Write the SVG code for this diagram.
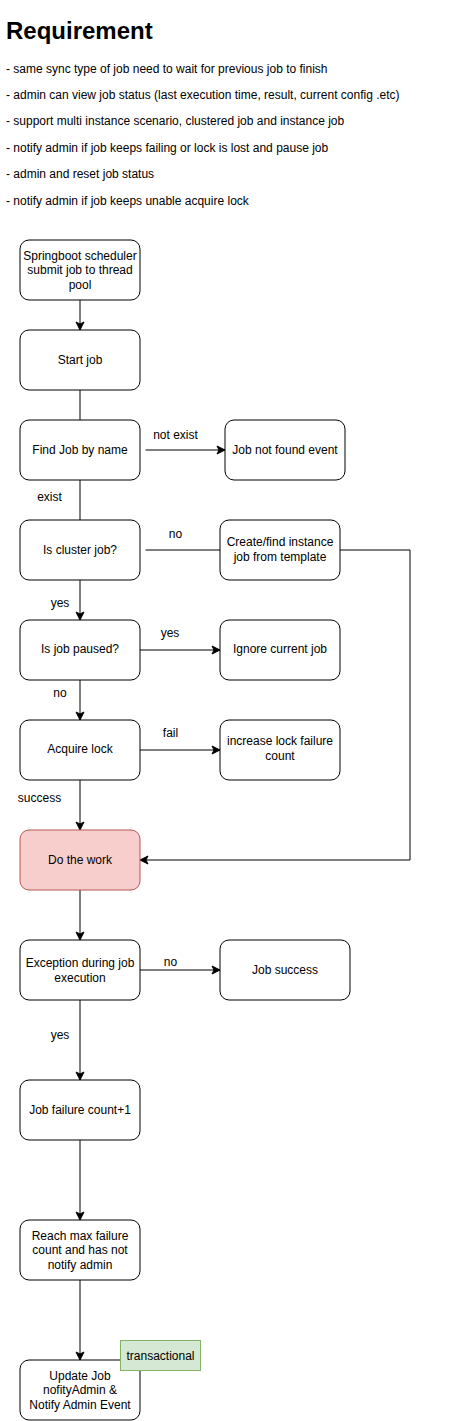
<svg xmlns="http://www.w3.org/2000/svg" width="462" height="1421" viewBox="0 0 462 1421">
<style>
text{font-family:"Liberation Sans",Arial,Helvetica,sans-serif;font-size:12px;fill:#000}
.t{font-size:24px;font-weight:bold}
.c{text-anchor:middle}
.n{fill:#fff;stroke:#000;stroke-width:1}
.w{fill:#f8cecc;stroke:#b85450;stroke-width:1}
.g{fill:#d5e8d4;stroke:#82b366;stroke-width:1}
.e{fill:none;stroke:#000;stroke-width:1}
.a{marker-end:url(#arr)}
</style>
<defs>
<marker id="arr" markerUnits="userSpaceOnUse" markerWidth="10" markerHeight="10" refX="8" refY="4" orient="auto" overflow="visible">
<path d="M0,0 L8,4 L0,8 L2,4 Z" fill="#000" stroke="#000" stroke-width="1"/>
</marker>
</defs>
<rect width="462" height="1421" fill="#fff"/>
<g id="requirements">
<text class="t" x="6" y="39">Requirement</text>
<text x="6" y="72.5">- same sync type of job need to wait for previous job to finish</text>
<text x="6" y="98.5">- admin can view job status (last execution time, result, current config .etc)</text>
<text x="6" y="125">- support multi instance scenario, clustered job and instance job</text>
<text x="6" y="151.5">- notify admin if job keeps failing or lock is lost and pause job</text>
<text x="6" y="178">- admin and reset job status</text>
<text x="6" y="204.5">- notify admin if job keeps unable acquire lock</text>
</g>
<g id="connectors">
<path class="e a" d="M80,300 V330"/>
<path class="e" d="M80,390 V420"/>
<path class="e a" d="M145.5,450 H225"/>
<path class="e" d="M80,480 V520"/>
<path class="e" d="M145.5,550 H220"/>
<path class="e a" d="M340,550 H410 V860 H140"/>
<path class="e a" d="M80,580 V620"/>
<path class="e a" d="M140,650 H220"/>
<path class="e a" d="M80,680 V720"/>
<path class="e a" d="M140,750 H220"/>
<path class="e a" d="M80,780 V830"/>
<path class="e a" d="M80,890 V940"/>
<path class="e a" d="M140,970 H220"/>
<path class="e a" d="M80,1000 V1080"/>
<path class="e a" d="M80,1140 V1220"/>
<path class="e a" d="M80,1280 V1360"/>
<text class="c" x="175.5" y="439">not exist</text>
<text class="c" x="49.5" y="501">exist</text>
<text class="c" x="175.5" y="538">no</text>
<text class="c" x="60" y="607">yes</text>
<text class="c" x="170" y="637">yes</text>
<text class="c" x="60" y="697">no</text>
<text class="c" x="170.5" y="736.5">fail</text>
<text class="c" x="39.5" y="802">success</text>
<text class="c" x="170.5" y="966">no</text>
<text class="c" x="60" y="1039">yes</text>
</g>
<g id="n-scheduler">
<rect class="n" x="20" y="240" width="120" height="60" rx="9"/>
<text class="c" x="80" y="259.5">Springboot scheduler</text>
<text class="c" x="80" y="274">submit job to thread</text>
<text class="c" x="80" y="288.5">pool</text>
</g>
<g id="n-start">
<rect class="n" x="20" y="330" width="120" height="60" rx="9"/>
<text class="c" x="80" y="364">Start job</text>
</g>
<g id="n-find">
<rect class="n" x="20" y="420" width="120" height="60" rx="9"/>
<text class="c" x="80" y="454">Find Job by name</text>
</g>
<g id="n-notfound">
<rect class="n" x="225" y="420" width="120" height="60" rx="9"/>
<text class="c" x="285" y="454">Job not found event</text>
</g>
<g id="n-cluster">
<rect class="n" x="20" y="520" width="120" height="60" rx="9"/>
<text class="c" x="80" y="553.5">Is cluster job?</text>
</g>
<g id="n-instance">
<rect class="n" x="220" y="520" width="120" height="60" rx="9"/>
<text class="c" x="280" y="546">Create/find instance</text>
<text class="c" x="280" y="561">job from template</text>
</g>
<g id="n-paused">
<rect class="n" x="20" y="620" width="120" height="60" rx="9"/>
<text class="c" x="80" y="652.5">Is job paused?</text>
</g>
<g id="n-ignore">
<rect class="n" x="220" y="620" width="120" height="60" rx="9"/>
<text class="c" x="280" y="652.5">Ignore current job</text>
</g>
<g id="n-lock">
<rect class="n" x="20" y="720" width="120" height="60" rx="9"/>
<text class="c" x="80" y="752.5">Acquire lock</text>
</g>
<g id="n-lockfail">
<rect class="n" x="220" y="720" width="120" height="60" rx="9"/>
<text class="c" x="280" y="745">increase lock failure</text>
<text class="c" x="280" y="760">count</text>
</g>
<g id="n-work">
<rect class="w" x="20" y="830" width="120" height="60" rx="9"/>
<text class="c" x="80" y="864">Do the work</text>
</g>
<g id="n-exception">
<rect class="n" x="20" y="940" width="120" height="60" rx="9"/>
<text class="c" x="80" y="967">Exception during job</text>
<text class="c" x="80" y="982">execution</text>
</g>
<g id="n-success">
<rect class="n" x="220" y="940" width="130" height="60" rx="9"/>
<text class="c" x="285" y="974">Job success</text>
</g>
<g id="n-failcount">
<rect class="n" x="20" y="1080" width="120" height="60" rx="9"/>
<text class="c" x="80" y="1114">Job failure count+1</text>
</g>
<g id="n-maxfail">
<rect class="n" x="20" y="1220" width="120" height="60" rx="9"/>
<text class="c" x="80" y="1239.5">Reach max failure</text>
<text class="c" x="80" y="1254">count and has not</text>
<text class="c" x="80" y="1268.5">notify admin</text>
</g>
<g id="n-update">
<rect class="n" x="20" y="1360" width="120" height="60" rx="9"/>
<text class="c" x="80" y="1379.5">Update Job</text>
<text class="c" x="80" y="1394">nofityAdmin &amp;</text>
<text class="c" x="80" y="1408.5">Notify Admin Event</text>
</g>
<g id="n-transactional">
<rect class="g" x="120.5" y="1340.5" width="80" height="30"/>
<text class="c" x="160.5" y="1359.5">transactional</text>
</g>
</svg>
